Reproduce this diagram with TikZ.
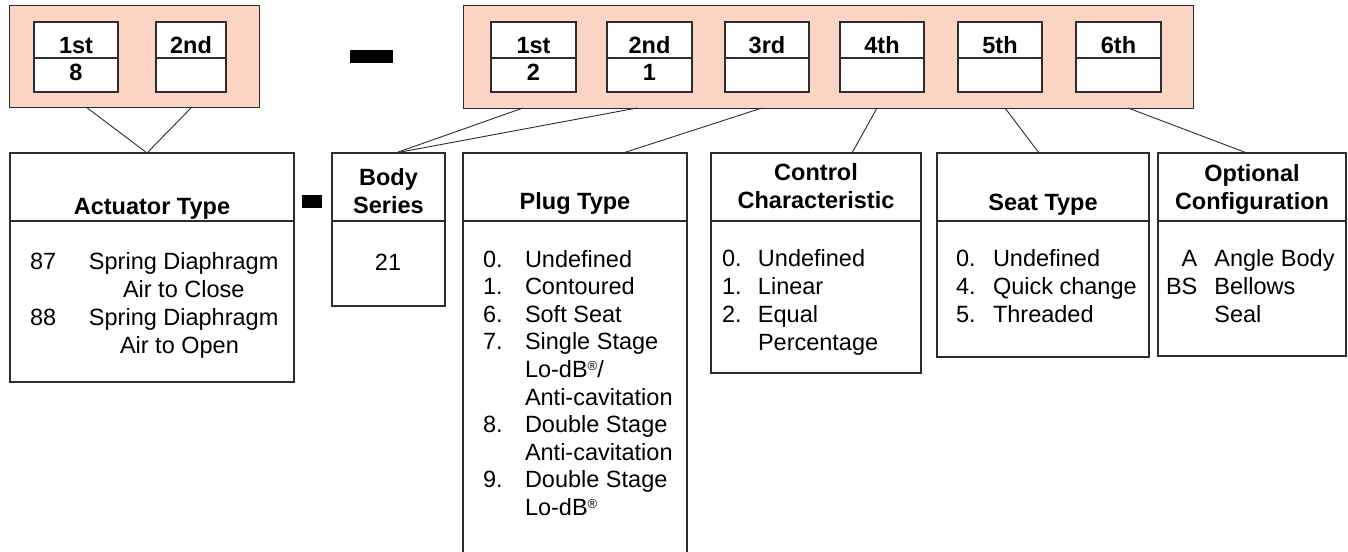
\documentclass[tikz,border=0pt]{standalone}
\usepackage{fontspec}
\setmainfont{Liberation Sans}
\definecolor{salmon}{RGB}{252,212,196}
\definecolor{edge}{RGB}{45,45,45}
\newcommand{\regmark}{\raisebox{0.55ex}{\fontsize{13}{13}\selectfont ®}}
\begin{document}
\begin{tikzpicture}[x=1pt,y=-1pt,
  every node/.style={inner sep=0pt, outer sep=0pt},
  txt/.style={font=\fontsize{23.5}{28}\selectfont},
  ttl/.style={font=\fontsize{23.5}{27.5}\selectfont\bfseries},
  band/.style={draw=edge, line width=1pt, fill=salmon, anchor=north west},
  cell/.style={draw=edge, line width=1.2pt, fill=white, anchor=north west, minimum width=#1, minimum height=70},
  cell/.default=84,
  frame/.style={draw=edge, line width=1.3pt, anchor=north west},
  rule/.style={draw=edge, line width=1.2pt},
  link/.style={draw=edge, line width=0.9pt},
  bar/.style={fill=black, anchor=north west}
]
\useasboundingbox (0,0) rectangle (1348,551);

% ---------- top bands ----------
\node[band, minimum width=250, minimum height=101] (L) at (9,6) {};
\node[band, minimum width=730, minimum height=102] (R) at (463,6) {};

% left cells
\node[cell=84] (l1) at (34,22) {};
\node[cell=70] (l2) at (156,22) {};
% right cells
\node[cell=85] (r1) at (491,22) {};
\node[cell=85] (r2) at (607,22) {};
\node[cell=84] (r3) at (725,22) {};
\node[cell=84] (r4) at (840,22) {};
\node[cell=84] (r5) at (958,22) {};
\node[cell=85] (r6) at (1076,22) {};

\foreach \c/\t/\v in {l1/1st/8, l2/2nd/, r1/1st/2, r2/2nd/1, r3/3rd/, r4/4th/, r5/5th/, r6/6th/}{
  \draw[rule] ([yshift=-36]\c.north west) -- ([yshift=-36]\c.north east);
  \node[ttl, anchor=base] (\c t) at ([yshift=-31]\c.north) {\t};
  \node[ttl, anchor=base] (\c v) at ([yshift=-59]\c.north) {\v};
}

% dashes
\node[bar, minimum width=43, minimum height=13] (dash1) at (350,50) {};
\node[bar, minimum width=20, minimum height=13] (dash2) at (302,195) {};

% ---------- lower boxes ----------
\node[frame, minimum width=284, minimum height=229] (act) at (10,153) {};
\node[frame, minimum width=113, minimum height=153] (body) at (332,153) {};
\node[anchor=north west, minimum width=224, minimum height=420] (plug) at (463,153) {};
\draw[edge, line width=1.3pt] (plug.south west) -- (plug.north west) -- (plug.north east) -- (plug.south east);
\node[frame, minimum width=210, minimum height=220] (ctrl) at (711,153) {};
\node[frame, minimum width=212, minimum height=204] (seat) at (937,153) {};
\node[frame, minimum width=188, minimum height=203] (opt) at (1158,153) {};

\foreach \b in {act, body, plug, ctrl, seat, opt}{
  \draw[rule] ([yshift=-68]\b.north west) -- ([yshift=-68]\b.north east);
}

% titles
\node[ttl, anchor=base] (actT) at (152,214) {Actuator Type};
\node[ttl, anchor=base] (bodyT) at (388.5,213) {\begin{tabular}[b]{@{}c@{}}Body\\Series\end{tabular}};
\node[ttl, anchor=base] (plugT) at (575,209) {Plug Type};
\node[ttl, anchor=base] (ctrlT) at (816,208) {\begin{tabular}[b]{@{}c@{}}Control\\Characteristic\end{tabular}};
\node[ttl, anchor=base] (seatT) at (1043,210) {Seat Type};
\node[ttl, anchor=base] (optT) at (1252,209) {\begin{tabular}[b]{@{}c@{}}Optional\\Configuration\end{tabular}};

% lists
\node[txt, anchor=base west] (actL) at (30,269) {\begin{tabular}[t]{@{}p{59pt}@{}l@{}}
87 & Spring Diaphragm\\
   & \hspace*{34pt}Air to Close\\
88 & Spring Diaphragm\\
   & \hspace*{31pt}Air to Open
\end{tabular}};
\node[txt, anchor=base] (bodyL) at (388,270) {21};
\node[txt, anchor=base west] (plugL) at (483,267) {\fontsize{23.5}{27.6}\selectfont\begin{tabular}[t]{@{}p{42pt}@{}l@{}}
0. & Undefined\\
1. & Contoured\\
6. & Soft Seat\\
7. & Single Stage\\
   & Lo-dB\regmark/\\
   & Anti-cavitation\\
8. & Double Stage\\
   & Anti-cavitation\\
9. & Double Stage\\
   & Lo-dB\regmark
\end{tabular}};
\node[txt, anchor=base west] (ctrlL) at (722,266) {\begin{tabular}[t]{@{}p{36pt}@{}l@{}}
0. & Undefined\\
1. & Linear\\
2. & Equal\\
   & Percentage
\end{tabular}};
\node[txt, anchor=base west] (seatL) at (956,266) {\begin{tabular}[t]{@{}p{37pt}@{}l@{}}
0. & Undefined\\
4. & Quick change\\
5. & Threaded
\end{tabular}};
\node[txt, anchor=base west] (optL) at (1166,266) {\begin{tabular}[t]{@{}r@{\hspace{17pt}}l@{}}
A & Angle Body\\
BS & Bellows\\
   & Seal
\end{tabular}};

% ---------- connectors ----------
\draw[link] ([xshift=77]L.south west) -- ([xshift=-5]act.north);
\draw[link] ([xshift=183]L.south west) -- ([xshift=-5]act.north);
\draw[link] ([xshift=60]R.south west) -- ([xshift=7]body.north);
\draw[link] ([xshift=174]R.south west) -- ([xshift=7]body.north);
\draw[link] ([xshift=299]R.south west) -- ([xshift=48]plug.north);
\draw[link] ([xshift=414]R.south west) -- ([xshift=36]ctrl.north);
\draw[link] ([xshift=542]R.south west) -- ([xshift=-4]seat.north);
\draw[link] ([xshift=665]R.south west) -- ([xshift=-5]opt.north);
\end{tikzpicture}
\end{document}
